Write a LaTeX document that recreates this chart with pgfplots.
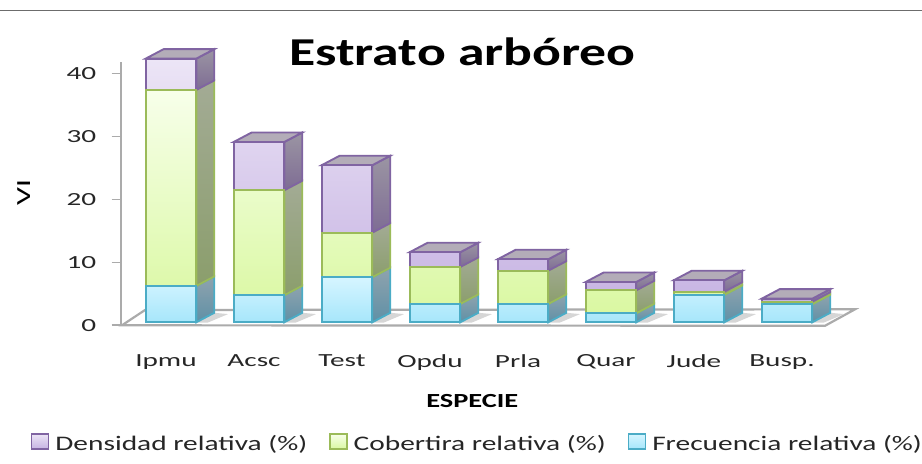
\documentclass[border=0pt]{standalone}
\usepackage{pgfplots}
\usepackage{fontspec}
\pgfplotsset{compat=1.18}
\setmainfont{Carlito}
\newfontfamily\widefont[FakeStretch=1.58]{Carlito}
\newfontfamily\legfont[FakeStretch=1.42]{Carlito}
\newfontfamily\titlefont[FakeStretch=1.36,BoldFont={Carlito Bold}]{Carlito}
\definecolor{pline}{HTML}{8064A2}
\definecolor{gline}{HTML}{9BBB59}
\definecolor{bline}{HTML}{4BACC6}
\definecolor{axgray}{HTML}{ABABAB}
\definecolor{topc}{HTML}{B3ACB8}
\definecolor{bst}{HTML}{8FA3AE}\definecolor{bsb}{HTML}{5F90A6}
\definecolor{gst}{HTML}{A3AB95}\definecolor{gsb}{HTML}{8B9E6C}
\definecolor{pst}{HTML}{9B95A3}\definecolor{psb}{HTML}{7E6C94}
\definecolor{bft}{HTML}{D6F5FF}\definecolor{bfb}{HTML}{A6E6FB}
\definecolor{gft}{HTML}{F7FFEA}\definecolor{gfb}{HTML}{DAF8A2}
\definecolor{pft}{HTML}{ECE5F6}\definecolor{pfb}{HTML}{C7B4E3}
\newcommand{\sideface}[6]{%
  \pgfmathsetmacro{\xa}{#1}\pgfmathsetmacro{\xb}{#1+0.2045}
  \pgfmathsetmacro{\ya}{#2}\pgfmathsetmacro{\yb}{#3}
  \pgfmathsetmacro{\yc}{#2+1.51}\pgfmathsetmacro{\yd}{#3+1.51}
  \addplot[draw=#4,line width=1.9bp,shade,top color=#5,bottom color=#6,yshift=3bp]
    coordinates {(\xa,\ya)(\xb,\yc)(\xb,\yd)(\xa,\yb)} -- cycle;
}
\newcommand{\onebar}[4]{%
  \pgfmathsetmacro{\barR}{#1+0.2875}\pgfmathsetmacro{\barL}{#1-0.2875}
  \pgfmathsetmacro{\sx}{\barR+0.13}\pgfmathsetmacro{\sy}{\barR+0.36}\pgfmathsetmacro{\sz}{\barR+0.2045}
  \addplot[draw=none,fill=gray!32,yshift=3bp] coordinates {(\barR,-0.05)(\sx,-0.05)(\sy,1.3)(\sz,1.51)} -- cycle;
  \sideface{\barR}{0}{#2}{bline}{bst}{bsb}
  \sideface{\barR}{#2}{#3}{gline}{gst}{gsb}
  \sideface{\barR}{#3}{#4}{pline}{pst}{psb}
  \pgfmathsetmacro{\tl}{\barL+0.2045}\pgfmathsetmacro{\tr}{\barR+0.2045}\pgfmathsetmacro{\ttop}{#4+1.51}
  \addplot[draw=pline,line width=1.9bp,fill=topc,yshift=3bp]
    coordinates {(\barL,#4)(\barR,#4)(\tr,\ttop)(\tl,\ttop)} -- cycle;
}
\begin{document}
\begin{tikzpicture}[x=1bp,y=1bp]
\path[use as bounding box] (0,0) rectangle (922,464);
\draw[color=gray!85!black,line width=1bp] (0,453) -- (922,453);
\pgfplotsset{base/.style={
  at={(120.7bp,138.7bp)},anchor=south west,
  scale only axis,width=734.3bp,height=263.6bp,
  xmin=-0.5716,xmax=7.773,ymin=0,ymax=41.87,clip=false}}
\begin{axis}[base,
  axis lines*=left,
  x axis line style={draw=none},
  y axis line style={draw=axgray,line width=2.2bp},
  ytick={0,10,20,30,40},
  xtick={0,...,7},
  xticklabels={Ipmu,Acsc,Test,Opdu,Prla,Quar,Jude,Busp.},
  major x tick style={draw=none},
  major y tick style={draw=axgray,line width=1.6bp},
  tick align=outside,
  major tick length=9bp,
  /pgf/number format/assume math mode=true,
  tick label style={font=\widefont\fontsize{18.5bp}{20bp}\selectfont,text=black!85},
  yticklabel style={xshift=-12bp},
  xticklabel style={yshift=-17bp,xshift=-5bp,anchor=north},
  every axis x label/.style={at={(axis description cs:0.4788,0)},anchor=center,yshift=-76bp},
  every axis y label/.style={at={(axis description cs:-0.1317,0.502)},anchor=center,rotate=90},
  xlabel={\bfseries\fontsize{20bp}{22bp}\selectfont\legfont ESPECIE},
  ylabel={\fontsize{20bp}{22bp}\selectfont\widefont VI},
]
\addplot[draw=axgray,line width=2.2bp,fill=white] coordinates {(-0.557,0)(7.432,-0.08)(7.773,2.54)(-0.295,2.43)} -- cycle;
\onebar{0}{5.77}{36.91}{41.88}
\onebar{1}{4.29}{20.97}{28.64}
\onebar{2}{7.15}{14.24}{24.95}
\onebar{3}{2.91}{8.79}{11.13}
\onebar{4}{2.91}{8.20}{10.01}
\onebar{5}{1.43}{5.08}{6.40}
\onebar{6}{4.34}{4.86}{6.67}
\onebar{7}{2.86}{3.27}{3.75}
\end{axis}
\begin{axis}[base,hide axis,
  ybar stacked,bar width=50.6bp,
  every axis plot/.append style={yshift=3bp},
  legend style={at={(axis description cs:0,0)},anchor=south west,
    xshift=-90bp,yshift=-129bp,draw=none,fill=none,
    font=\legfont\fontsize{20.7bp}{23bp}\selectfont,text=black!85,
    /tikz/every even column/.style={column sep=20bp},
    /tikz/every odd column/.style={column sep=4bp},inner sep=0pt},
  legend columns=3,reverse legend,
  legend image code/.code={\draw[#1,line width=1.5bp] (0bp,-8bp) rectangle (17bp,7bp);},
]
\addplot[draw=bline,line width=1.9bp,shade,top color=bft,bottom color=bfb] coordinates {(0,5.77)(1,4.29)(2,7.15)(3,2.91)(4,2.91)(5,1.43)(6,4.34)(7,2.86)};
\addplot[draw=gline,line width=1.9bp,shade,top color=gft,bottom color=gfb] coordinates {(0,31.14)(1,16.68)(2,7.09)(3,5.88)(4,5.29)(5,3.65)(6,0.52)(7,0.41)};
\addplot[draw=pline,line width=1.9bp,shade,top color=pft,bottom color=pfb] coordinates {(0,4.97)(1,7.67)(2,10.71)(3,2.34)(4,1.81)(5,1.32)(6,1.81)(7,0.48)};
\legend{Frecuencia relativa (\%),Cobertira relativa (\%),Densidad relativa (\%)}
\end{axis}
\node[anchor=center,inner sep=0pt] at (462.5,412) {\titlefont\bfseries\fontsize{39.5bp}{41bp}\selectfont Estrato arbóreo};
\end{tikzpicture}
\end{document}
